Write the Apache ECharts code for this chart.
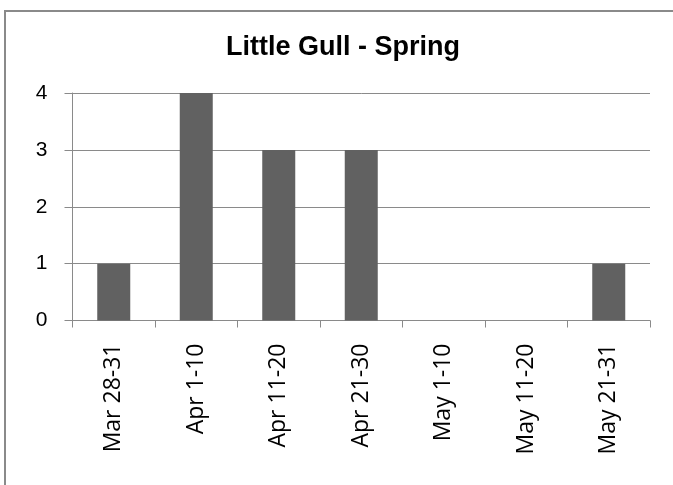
<!DOCTYPE html>
<html>
<head>
<meta charset="utf-8">
<script src="https://cdn.jsdelivr.net/npm/echarts@6/dist/echarts.min.js"></script>
<style>
html,body{margin:0;padding:0;background:#fff;}
#chart{width:673px;height:485px;}
</style>
</head>
<body>
<div id="chart"></div>
<script>
var titleText = "Little Gull - Spring";
var categories = ["Mar 28-31", "Apr 1-10", "Apr 11-20", "Apr 21-30", "May 1-10", "May 11-20", "May 21-31"];
var counts = [1, 4, 3, 3, 0, 0, 1];
var yTicks = [0, 1, 2, 3, 4];

var chart = echarts.init(document.getElementById('chart'), null, {renderer: 'canvas'});
chart.setOption({
  backgroundColor: '#ffffff',
  animation: false,
  graphic: [{
    type: 'rect',
    shape: {x: 5, y: 11, width: 720, height: 520},
    style: {fill: 'none', stroke: '#8a8a8a', lineWidth: 2},
    silent: true
  }],
  title: {
    text: titleText,
    left: 226,
    top: 34,
    padding: 0,
    textStyle: {fontFamily: 'Liberation Sans, Arial, sans-serif', fontWeight: 'bold', fontSize: 27, color: '#000'}
  },
  grid: {left: 72.5, right: 23, top: 93, bottom: 164.5, containLabel: false},
  xAxis: {
    type: 'category',
    data: categories,
    boundaryGap: true,
    axisLine: {show: true, lineStyle: {color: '#8a8a8a', width: 1}},
    axisTick: {show: true, length: 7, alignWithLabel: false, lineStyle: {color: '#8a8a8a'}},
    axisLabel: {rotate: 90, margin: 23, fontFamily: 'Open Sans, sans-serif', fontSize: 23, color: '#000', interval: 0}
  },
  yAxis: {
    type: 'value',
    min: yTicks[0],
    max: yTicks[yTicks.length - 1],
    interval: 1,
    axisLine: {show: true, lineStyle: {color: '#8a8a8a', width: 1}},
    axisTick: {show: true, length: 8, lineStyle: {color: '#8a8a8a'}},
    splitLine: {show: true, lineStyle: {color: '#8a8a8a', width: 1}},
    axisLabel: {margin: 25, fontFamily: 'Liberation Sans, Arial, sans-serif', fontSize: 21, color: '#000'}
  },
  series: [{
    type: 'bar',
    data: counts,
    barWidth: 33,
    itemStyle: {color: '#616161'}
  }]
});
</script>
</body>
</html>
